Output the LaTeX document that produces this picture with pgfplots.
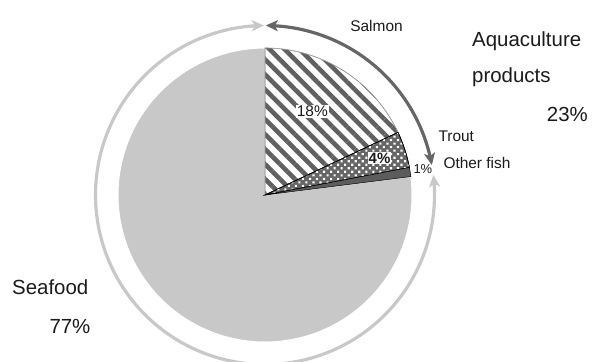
\documentclass[border=0pt]{standalone}
\usepackage{pgfplots}
\pgfplotsset{compat=1.18}
\usepackage{fontspec}
\setmainfont{Liberation Sans}
\usetikzlibrary{patterns.meta,arrows.meta}
\definecolor{lightg}{HTML}{C8C8C8}
\definecolor{darkg}{HTML}{666666}
\definecolor{stripe}{HTML}{606060}
\definecolor{txt}{HTML}{1A1A1A}
% shares in percent, clockwise from 12 o'clock
\def\pSalmon{18}\def\pTrout{4}\def\pOther{1}\def\pSeafood{77}
\begin{document}
\begin{tikzpicture}
\begin{axis}[
  scale only axis, width=593bp, height=362bp,
  xmin=-265, xmax=328, ymin=-167, ymax=195,
  hide axis, clip=false,
]
% angles
\pgfmathsetmacro\aA{90}
\pgfmathsetmacro\aB{90-3.6*\pSalmon}
\pgfmathsetmacro\aC{\aB-3.6*\pTrout}
\pgfmathsetmacro\aD{\aC-3.6*\pOther}
\pgfmathsetmacro\aE{\aD-3.6*\pSeafood}
% Seafood
\addplot[fill=lightg, draw=white, line width=1pt, data cs=polar, domain=\aE:\aD, samples=200]
  ({x},147) -- (axis cs:0,0) -- cycle;
% Salmon
\addplot[fill=white, draw=stripe!60, line width=0.6pt, data cs=polar, domain=\aB:\aA, samples=60,
  postaction={pattern={Lines[angle=-45,distance=10.6pt,line width=4.6pt]}, pattern color=stripe}]
  ({x},147) -- (axis cs:0,0) -- cycle;
% Trout
\addplot[fill=darkg, draw=black, line width=0.6pt, data cs=polar, domain=\aC:\aB, samples=20,
  postaction={pattern={Dots[distance=5pt,radius=1.5pt,angle=45]}, pattern color=white}]
  ({x},147) -- (axis cs:0,0) -- cycle;
% Other fish
\addplot[fill=darkg!90!black, draw=black, line width=0.5pt, data cs=polar, domain=\aD:\aC, samples=10]
  ({x},147) -- (axis cs:0,0) -- cycle;
% outer arrows
\addplot[lightg, line width=3.2pt, data cs=polar, domain=90.4:366.8, samples=200,
  {Stealth[length=12pt,width=11pt,inset=3pt]}-{Stealth[length=12pt,width=11pt,inset=3pt]}]
  ({x},169.5);
\addplot[darkg, line width=3.2pt, data cs=polar, domain=10.2:89.7, samples=80,
  {Stealth[length=12pt,width=11pt,inset=3pt]}-{Stealth[length=12pt,width=11pt,inset=3pt]}]
  ({x},169.5);
% labels
\tikzset{lab/.style={inner sep=0pt, text=txt, font=\fontsize{20.5}{24}\selectfont},
         sm/.style={inner sep=0pt, text=txt, font=\fontsize{15.5}{18}\selectfont}}
\node[sm, anchor=base] at (axis cs:111.5,163.3) {Salmon};
\node[lab, anchor=base west] at (axis cs:207,148.3) {Aquaculture};
\node[lab, anchor=base west] at (axis cs:207,112) {products};
\node[lab, anchor=base west] at (axis cs:281.7,73.3) {23\%};
\node[sm, anchor=base west] at (axis cs:173.3,53.3) {Trout};
\node[sm, anchor=base west] at (axis cs:178.3,26.7) {Other fish};
\node[sm, anchor=base west, font=\fontsize{13}{15}\selectfont] at (axis cs:148.3,21.7) {1\%};
\node[sm, anchor=base west, fill=white, inner sep=0.8pt] at (axis cs:30.9,78.3) {18\%};
\node[sm, anchor=base west, fill=white, inner sep=1pt, font=\fontsize{15}{18}\selectfont\bfseries] at (axis cs:102.5,31.7) {4\%};
\node[lab, anchor=base west] at (axis cs:-253,-100) {Seafood};
\node[lab, anchor=base west] at (axis cs:-215.7,-138.3) {77\%};
\end{axis}
\pgfresetboundingbox
\useasboundingbox (current axis.south west) rectangle (current axis.north east);
\end{tikzpicture}
\end{document}
